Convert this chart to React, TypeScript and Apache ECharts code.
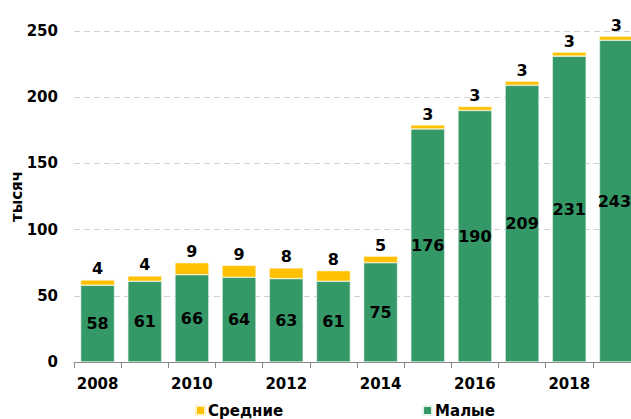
import React, { useEffect, useRef } from "react";
import * as echarts from "echarts";

const years = ["2008", "2009", "2010", "2011", "2012", "2013", "2014", "2015", "2016", "2017", "2018", "2019"];
const small = [58, 61, 66, 64, 63, 61, 75, 176, 190, 209, 231, 243];
const medium = [4, 4, 9, 9, 8, 8, 5, 3, 3, 3, 3, 3];
const yTicks = [0, 50, 100, 150, 200, 250];

const FONT = "DejaVu Sans";

export default function App() {
  const ref = useRef<HTMLDivElement>(null);
  useEffect(() => {
    if (!ref.current) return;
    const chart = echarts.init(ref.current, null, { renderer: "svg" });
    const lastIdx = small.length - 1;
    chart.setOption({
      animation: false,
      textStyle: { fontFamily: FONT },
      grid: { left: 74, right: -9, top: 31, bottom: 57, outerBoundsMode: "none", containLabel: false },
      legend: {
        top: 403,
        left: 195,
        padding: 0,
        itemWidth: 9,
        itemHeight: 9,
        itemGap: 139,
        icon: "rect",
        data: ["Средние", "Малые"],
        textStyle: { fontFamily: FONT, fontWeight: "bold", fontSize: 15, color: "#000", padding: [0, 0, 0, -2] },
      },
      xAxis: {
        type: "category",
        data: years,
        axisLine: { lineStyle: { color: "#888" } },
        axisTick: { show: true, interval: 0, length: 6, lineStyle: { color: "#888" } },
        axisLabel: { interval: 1, fontFamily: FONT, fontWeight: "bold", fontSize: 15, color: "#000", margin: 14 },
      },
      yAxis: {
        type: "value",
        min: yTicks[0],
        max: yTicks[yTicks.length - 1],
        interval: 50,
        name: "тысяч",
        nameLocation: "middle",
        nameGap: 50,
        nameMoveOverlap: false,
        nameRotate: 90,
        nameTextStyle: { fontFamily: FONT, fontWeight: "bold", fontSize: 15, color: "#000" },
        axisLine: { show: false },
        axisTick: { show: false },
        axisLabel: { fontFamily: FONT, fontWeight: "bold", fontSize: 15, color: "#000", margin: 16 },
        splitLine: { lineStyle: { color: "#d0d0d0", type: [6, 4] } },
      },
      series: [
        {
          name: "Малые",
          type: "bar",
          stack: "total",
          data: small.map((v, i) =>
            i === lastIdx ? { value: v, label: { offset: [-2, 0] } } : v
          ),
          barWidth: "72%",
          itemStyle: { color: "#349967", borderColor: "#e8f2ec", borderWidth: 0.6 },
          label: {
            show: true,
            position: "inside",
            fontFamily: FONT,
            fontWeight: "bold",
            fontSize: 16,
            color: "#000",
          },
        },
        {
          name: "Средние",
          type: "bar",
          stack: "total",
          data: medium,
          barWidth: "72%",
          itemStyle: { color: "#FFC000", borderColor: "#fff3cc", borderWidth: 0.6 },
          label: {
            show: true,
            position: "top",
            distance: 3,
            fontFamily: FONT,
            fontWeight: "bold",
            fontSize: 16,
            color: "#000",
          },
        },
      ],
    });
    return () => chart.dispose();
  }, []);
  return <div ref={ref} style={{ width: 631, height: 419, position: "absolute", left: 0, top: 0 }} />;
}
